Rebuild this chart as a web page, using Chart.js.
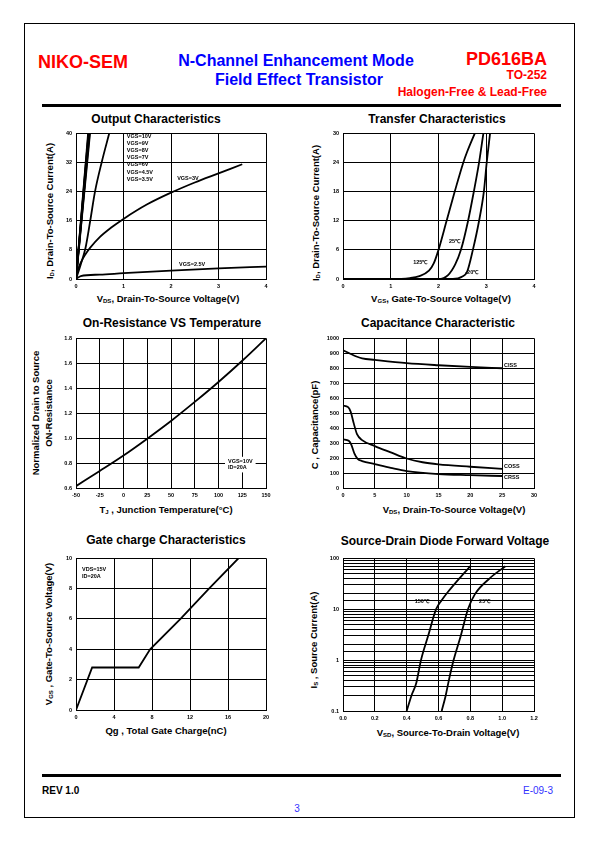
<!DOCTYPE html>
<html>
<head>
<meta charset="utf-8">
<script src="https://cdn.jsdelivr.net/npm/chart.js@4.4.0/dist/chart.umd.min.js"></script>
<style>
body { margin:0; width:595px; height:842px; position:relative; background:#fff; font-family:"Liberation Sans", Arial, sans-serif; overflow:hidden; }
.t { position:absolute; white-space:nowrap; font-weight:bold; line-height:1; }
.l { transform:translate(0,-50%); }
.c { transform:translate(-50%,-50%); }
.r { transform:translate(-100%,-50%); }
.v { transform:translate(-50%,-50%) rotate(-90deg); text-align:center; }
.ttl { font-size:12px; color:#000; }
.ax { font-size:9.5px; color:#000; }
sub { font-size:6px; vertical-align:-1px; }
canvas { position:absolute; }
</style>
</head>
<body>
<div style="position:absolute;left:24px;top:23px;width:551px;height:795px;border:1.5px solid #000;box-sizing:border-box;"></div>
<div style="position:absolute;left:42px;top:104px;width:519px;height:3px;background:#000;"></div>
<div style="position:absolute;left:42px;top:774px;width:519px;height:3px;background:#000;"></div>

<div class="t l" style="left:38px;top:62px;font-size:18px;color:#f00;">NIKO-SEM</div>
<div class="t c" style="left:296px;top:61px;font-size:16px;color:#0000ff;">N-Channel Enhancement Mode</div>
<div class="t c" style="left:299px;top:80px;font-size:16px;color:#0000ff;">Field Effect Transistor</div>
<div class="t r" style="left:547px;top:59px;font-size:18px;color:#f00;">PD616BA</div>
<div class="t r" style="left:547px;top:75px;font-size:12px;color:#f00;">TO-252</div>
<div class="t r" style="left:547px;top:92px;font-size:12px;color:#f00;">Halogen-Free &amp; Lead-Free</div>

<div class="t l" style="left:42px;top:791px;font-size:10px;color:#000;">REV 1.0</div>
<div class="t r" style="left:553px;top:791px;font-size:10px;color:#3232ff;font-weight:normal;">E-09-3</div>
<div class="t c" style="left:297px;top:809px;font-size:10px;color:#3232ff;font-weight:normal;">3</div>

<!-- chart titles -->
<div class="t c ttl" style="left:156px;top:119px;">Output Characteristics</div>
<div class="t c ttl" style="left:437px;top:119px;">Transfer Characteristics</div>
<div class="t c ttl" style="left:172px;top:323px;">On-Resistance VS Temperature</div>
<div class="t c ttl" style="left:438px;top:323px;">Capacitance Characteristic</div>
<div class="t c ttl" style="left:166px;top:540px;">Gate charge Characteristics</div>
<div class="t c ttl" style="left:445px;top:541px;">Source-Drain Diode Forward Voltage</div>

<!-- axis titles -->
<div class="t c ax" style="left:168px;top:299px;">V<sub>DS</sub>, Drain-To-Source Voltage(V)</div>
<div class="t v ax" style="left:50px;top:211px;">I<sub>D</sub>, Drain-To-Source Current(A)</div>
<div class="t c ax" style="left:441px;top:299px;">V<sub>GS</sub>, Gate-To-Source Voltage(V)</div>
<div class="t v ax" style="left:316px;top:213px;">I<sub>D</sub>, Drain-To-Source Current(A)</div>
<div class="t c ax" style="left:166px;top:510px;">T<sub>J</sub> , Junction Temperature(°C)</div>
<div class="t v ax" style="left:43px;top:413px;line-height:1.35;">Normalized Drain to Source<br>ON-Resistance</div>
<div class="t c ax" style="left:454px;top:510px;">V<sub>DS</sub>, Drain-To-Source Voltage(V)</div>
<div class="t v ax" style="left:315px;top:425px;">C , Capacitance(pF)</div>
<div class="t c ax" style="left:166px;top:731px;">Qg , Total Gate Charge(nC)</div>
<div class="t v ax" style="left:49px;top:634px;">V<sub>GS</sub> , Gate-To-Source Voltage(V)</div>
<div class="t c ax" style="left:448px;top:733px;">V<sub>SD</sub>, Source-To-Drain Voltage(V)</div>
<div class="t v ax" style="left:314px;top:640px;">I<sub>S</sub> , Source Current(A)</div>

<script>
// ---- data ----
// Output characteristics (VDS in V, ID in A)
const out25X = [0, 0.1, 0.5, 1, 2, 3, 4];
const out25Y = [0, 0.8, 1.2, 1.6, 2.3, 2.9, 3.4];
const out3X = [0, 0.04, 0.1, 0.2, 0.3, 0.5, 0.75, 1, 1.5, 2, 2.5, 3, 3.5];
const out3Y = [0, 2.5, 4.5, 6.8, 8.6, 11.5, 14.2, 16.5, 20.5, 23.7, 26.5, 29, 31.5];
const out35X = [0, 0.1, 0.2, 0.3, 0.4, 0.54, 0.7];
const out35Y = [0, 4, 8.5, 16, 24, 32, 40];
const outHighVgs = ['4.5V', '6V', '7V', '8V', '9V', '10V'];
const outHighEndX = [0.295, 0.285, 0.276, 0.268, 0.262, 0.255];
const outLegend = ['VGS=10V', 'VGS=9V', 'VGS=8V', 'VGS=7V', 'VGS=6V', 'VGS=4.5V', 'VGS=3.5V'];

// Transfer characteristics (VGS in V, ID in A)
const tr125X = [0, 1, 1.4, 1.6, 1.8, 1.9, 2.0, 2.17, 2.34, 2.52, 2.6, 2.76];
const tr125Y = [0, 0, 0.2, 0.6, 1.7, 3.2, 6, 12, 18, 24, 26.2, 30];
const tr25X = [0, 2, 2.2, 2.35, 2.47, 2.62, 2.74, 2.85, 2.94];
const tr25Y = [0, 0, 0.8, 3, 6, 12, 18, 24, 30];
const trM20X = [0, 2.3, 2.5, 2.6, 2.72, 2.85, 2.95, 3.01, 3.08];
const trM20Y = [0, 0, 0.5, 1.5, 6, 12, 18, 24, 30];

// On-resistance vs temperature
const tjC = [-50, -25, 0, 25, 50, 75, 100, 125, 150];
const rdsNorm = [0.615, 0.736, 0.86, 0.995, 1.137, 1.29, 1.45, 1.62, 1.8];

// Capacitance (VDS in V, C in pF)
const cissV = [0, 1, 2, 3, 5, 10, 15, 20, 25];
const cissPf = [920, 900, 880, 866, 856, 834, 820, 809, 800];
const cossV = [0, 0.8, 1.2, 1.7, 2.2, 3, 5, 7.5, 10, 12.5, 15, 20, 25];
const cossPf = [550, 540, 510, 430, 360, 320, 280, 238, 197, 172, 158, 142, 128];
const crssV = [0, 0.9, 1.3, 1.8, 2.3, 3, 5, 7.5, 10, 15, 20, 25];
const crssPf = [325, 315, 290, 230, 195, 180, 160, 135, 113, 93, 86, 80];

// Gate charge (Qg in nC, VGS in V)
const qgNc = [0, 1.7, 6.6, 7.8, 11, 14, 17.1];
const qgVgs = [0, 2.8, 2.8, 4, 6, 8, 10];

// Source-drain diode (VSD in V, IS in A)
const sd150V = [0.4, 0.43, 0.46, 0.49, 0.535, 0.585, 0.62, 0.66, 0.73, 0.8];
const sd150I = [0.1, 0.2, 0.35, 1, 3, 10, 15, 22, 40, 70];
const sd25V = [0.62, 0.645, 0.665, 0.695, 0.74, 0.785, 0.83, 0.92, 1.02];
const sd25I = [0.1, 0.2, 0.4, 1, 3, 10, 20, 40, 70];

// ---- drawing ----
const PL = 24, PT = 6, PR = 10, PB = 14;
const tickFont = { family: 'Liberation Sans', size: 5.5, weight: 'bold' };

function pts(xs, ys) {
    return xs.map((x, i) => ({ x: x, y: ys[i] }));
}

function curve(xs, ys, smooth) {
    return {
        data: pts(xs, ys),
        borderColor: '#000',
        borderWidth: 1.8,
        pointRadius: 0,
        fill: false,
        tension: 0,
        cubicInterpolationMode: smooth ? 'monotone' : 'default'
    };
}

function linScale(min, max, step, fmt) {
    const s = {
        type: 'linear', min: min, max: max,
        ticks: { stepSize: step, color: '#000', font: tickFont, padding: 4, autoSkip: false, maxRotation: 0,
                 callback: fmt || (v => String(v)) },
        grid: { color: '#000', lineWidth: 1, drawTicks: false },
        border: { color: '#000', width: 1 }
    };
    return s;
}

// small text labels inside the plot, placed in data units
function notes(items, boxed) {
    return {
        id: 'notes',
        afterDatasetsDraw(chart) {
            const ctx = chart.ctx;
            const xs = chart.scales.x, ys = chart.scales.y;
            ctx.save();
            ctx.font = 'bold 5.5px "Liberation Sans"';
            ctx.textBaseline = 'middle';
            if (boxed) {
                let x0 = 1e9, x1 = -1e9, y0 = 1e9, y1 = -1e9;
                items.forEach(n => {
                    const px = xs.getPixelForValue(n.x), py = ys.getPixelForValue(n.y);
                    x0 = Math.min(x0, px); x1 = Math.max(x1, px + ctx.measureText(n.t).width);
                    y0 = Math.min(y0, py); y1 = Math.max(y1, py);
                });
                ctx.fillStyle = '#fff';
                ctx.fillRect(x0 - 3, y0 - 5, x1 - x0 + 6, y1 - y0 + 10);
            }
            ctx.fillStyle = '#000';
            items.forEach(n => {
                ctx.fillText(n.t, xs.getPixelForValue(n.x), ys.getPixelForValue(n.y));
            });
            ctx.restore();
        }
    };
}

function makeChart(rect, datasets, xScale, yScale, labels, boxed) {
    const cv = document.createElement('canvas');
    const w = rect[2] - rect[0] + PL + PR;
    const h = rect[3] - rect[1] + PT + PB;
    cv.width = w; cv.height = h;
    cv.style.left = (rect[0] - PL) + 'px';
    cv.style.top = (rect[1] - PT) + 'px';
    cv.style.width = w + 'px';
    cv.style.height = h + 'px';
    document.body.appendChild(cv);
    xScale.afterFit = function (s) { s.height = PB; };
    yScale.afterFit = function (s) { s.width = PL; };
    return new Chart(cv.getContext('2d'), {
        type: 'line',
        data: { datasets: datasets },
        options: {
            responsive: false,
            animation: false,
            events: [],
            layout: { padding: { top: PT, right: PR, left: 0, bottom: 0 } },
            plugins: { legend: { display: false }, tooltip: { enabled: false } },
            scales: { x: xScale, y: yScale }
        },
        plugins: [notes(labels || [], boxed)]
    });
}

// 1. Output characteristics
const outSets = [curve(out25X, out25Y, true), curve(out3X, out3Y, true), curve(out35X, out35Y, true)];
outHighVgs.forEach((v, i) => outSets.push(curve([0, outHighEndX[i]], [0, 40], false)));
makeChart([76, 132, 266, 279], outSets,
    linScale(0, 4, 1), linScale(0, 40, 8),
    outLegend.map((t, i) => ({ t: t, x: 1.07, y: 39.2 - i * 1.97 }))
        .concat([{ t: 'VGS=3V', x: 2.13, y: 27.5 }, { t: 'VGS=2.5V', x: 2.17, y: 4.1 }]));

// 2. Transfer characteristics
makeChart([343, 132, 534, 279],
    [curve(tr125X, tr125Y, true), curve(tr25X, tr25Y, true), curve(trM20X, trM20Y, true)],
    linScale(0, 4, 1), linScale(0, 30, 6),
    [{ t: '125℃', x: 1.47, y: 3.5 }, { t: '25℃', x: 2.22, y: 7.8 }, { t: '-20℃', x: 2.56, y: 1.4 }]);

// 3. On-resistance vs temperature
makeChart([76, 337, 266, 488],
    [curve(tjC, rdsNorm, true)],
    linScale(-50, 150, 25), linScale(0.6, 1.8, 0.2, v => v.toFixed(1)),
    [{ t: 'VGS=10V', x: 110, y: 0.81 }, { t: 'ID=20A', x: 110, y: 0.765 }], true);

// 4. Capacitance
makeChart([343, 337, 534, 488],
    [curve(cissV, cissPf, true), curve(cossV, cossPf, true), curve(crssV, crssPf, true)],
    linScale(0, 30, 5), linScale(0, 1000, 100),
    [{ t: 'CISS', x: 25.3, y: 821 }, { t: 'COSS', x: 25.3, y: 146 }, { t: 'CRSS', x: 25.3, y: 73 }]);

// 5. Gate charge
makeChart([76, 557, 266, 710],
    [curve(qgNc, qgVgs, false)],
    linScale(0, 20, 4), linScale(0, 10, 2),
    [{ t: 'VDS=15V', x: 0.63, y: 9.28 }, { t: 'ID=20A', x: 0.63, y: 8.82 }]);

// 6. Source-drain diode, log y
const logY = linScale(0.1, 100, null);
logY.type = 'logarithmic';
delete logY.ticks.stepSize;
logY.ticks.callback = function (v) {
    const l = Math.log10(v);
    return Math.abs(l - Math.round(l)) < 1e-6 ? String(+v.toPrecision(2)) : '';
};
makeChart([343, 557, 534, 711],
    [curve(sd150V, sd150I, true), curve(sd25V, sd25I, true)],
    linScale(0, 1.2, 0.2, v => v.toFixed(1)), logY,
    [{ t: '150℃', x: 0.45, y: 13.9 }, { t: '25℃', x: 0.855, y: 13.9 }]);
</script>
</body>
</html>
